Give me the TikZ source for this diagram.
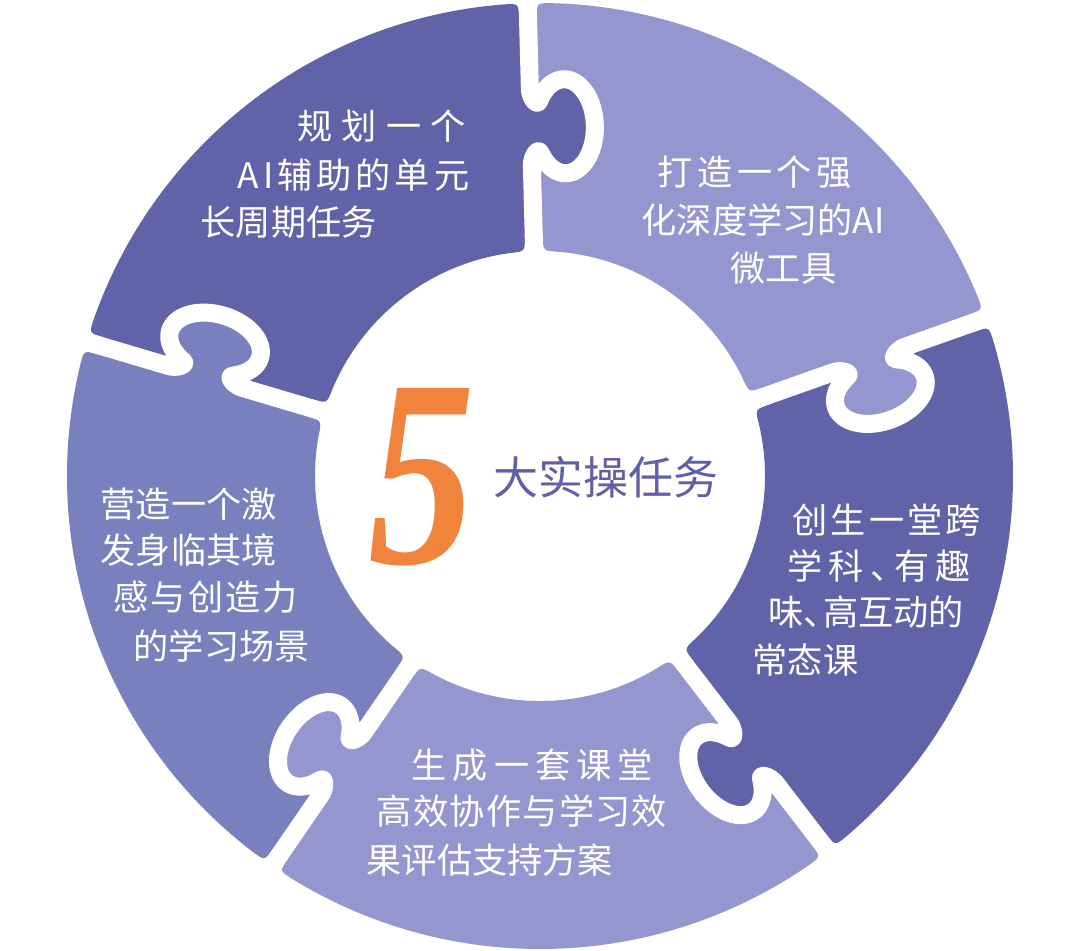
\documentclass[tikz,border=0pt]{standalone}
\usepackage{fontspec}
\newfontfamily\cjk{Noto Sans CJK SC}
\newfontfamily\numfont{Liberation Serif}
\definecolor{dk}{HTML}{6163A9}
\definecolor{lt}{HTML}{9497CF}
\definecolor{md}{HTML}{7880BE}
\definecolor{org}{HTML}{F0843C}
\definecolor{ttl}{HTML}{5F60A8}
\newcommand\knobout[1]{-- ([rotate=#1]311,0) .. controls ([rotate=#1]319,0) and ([rotate=#1]329,-6.5) .. ([rotate=#1]323,-9) .. controls ([rotate=#1]309.9,-14.6) and ([rotate=#1]302,-24) .. ([rotate=#1]302,-34) .. controls ([rotate=#1]302,-50.6) and ([rotate=#1]323,-64) .. ([rotate=#1]349,-64) .. controls ([rotate=#1]375,-64) and ([rotate=#1]396,-50.6) .. ([rotate=#1]396,-34) .. controls ([rotate=#1]396,-24) and ([rotate=#1]388.1,-14.6) .. ([rotate=#1]375,-9) .. controls ([rotate=#1]369,-6.5) and ([rotate=#1]379,0) .. ([rotate=#1]387,0)}
\newcommand\knobin[1]{-- ([rotate=#1]387,0) .. controls ([rotate=#1]379,0) and ([rotate=#1]369,-6.5) .. ([rotate=#1]375,-9) .. controls ([rotate=#1]388.1,-14.6) and ([rotate=#1]396,-24) .. ([rotate=#1]396,-34) .. controls ([rotate=#1]396,-50.6) and ([rotate=#1]375,-64) .. ([rotate=#1]349,-64) .. controls ([rotate=#1]323,-64) and ([rotate=#1]302,-50.6) .. ([rotate=#1]302,-34) .. controls ([rotate=#1]302,-24) and ([rotate=#1]309.9,-14.6) .. ([rotate=#1]323,-9) .. controls ([rotate=#1]329,-6.5) and ([rotate=#1]319,0) .. ([rotate=#1]311,0)}
\newcommand\seg[3]{%
 \fill[#1] ([rotate=#2]311,0) \knobout{#2} -- ([rotate=#2]458,9) .. controls ([rotate=#2]473,9) .. (#2+2.907:473) arc[start angle=#2+2.907, end angle=#3-2.907, radius=473] .. controls ([rotate=#3]473,-9) .. ([rotate=#3]458,-9) \knobin{#3} -- ([rotate=#3]240,-9) .. controls ([rotate=#3]225,-9) .. (#3-6.11:225) arc[start angle=#3-6.11, end angle=#2+6.11, radius=225] .. controls ([rotate=#2]225,9) .. ([rotate=#2]240,9) -- cycle;}
\newcommand\cut[1]{\draw[gapline] (#1:200) \knobout{#1} -- (#1:500);}
\begin{document}
\begin{tikzpicture}[x=0.01cm,y=0.01cm,
  gapline/.style={white,line width=0.18cm,line join=round},
  txt/.style={text=white,inner sep=0pt,anchor=west,font=\cjk\fontsize{10pt}{12pt}\selectfont}]
\useasboundingbox (-540,-474) rectangle (540,476);
\fill[white] (-540,-474) rectangle (540,476);
\seg{dk}{91.5}{163.5}
\seg{lt}{19.5}{91.5}
\seg{dk}{-52.5}{19.5}
\seg{lt}{-124.5}{-52.5}
\seg{md}{163.5}{235.5}
\cut{91.5}
\cut{19.5}
\cut{-52.5}
\cut{-124.5}
\cut{163.5}
% segment 1
\node[txt] (a1) at (-243,350) {规\kern.09cm 划\kern.09cm 一\kern.09cm 个};
\node[txt] (a2) at (-303,301) {A\kern.04cm I\kern.04cm 辅\kern.04cm 助\kern.04cm 的\kern.04cm 单\kern.04cm 元};
\node[txt] (a3) at (-340,254) {长周期任务};
% segment 2
\node[txt] (b1) at (117,304) {打\kern.045cm 造\kern.045cm 一\kern.045cm 个\kern.045cm 强};
\node[txt] (b2) at (101,256) {化深度学习的AI};
\node[txt] (b3) at (190,208) {微工具};
% segment 3
\node[txt] (c1) at (252,-44) {创\kern.03cm 生\kern.03cm 一\kern.03cm 堂\kern.03cm 跨};
\node[txt] (c2) at (247,-90) {学\kern.06cm 科\kern.06cm 、\kern-.3em 有\kern.06cm 趣};
\node[txt] (c3) at (228,-136) {味、\kern-.45em 高互动的};
\node[txt] (c4) at (212,-184) {常态课};
% segment 4
\node[txt] (d1) at (-129,-289) {生\kern.06cm 成\kern.06cm 一\kern.06cm 套\kern.06cm 课\kern.06cm 堂};
\node[txt] (d2) at (-164,-335) {高\kern.013cm 效\kern.013cm 协\kern.013cm 作\kern.013cm 与\kern.013cm 学\kern.013cm 习\kern.013cm 效};
\node[txt] (d3) at (-174,-384) {果评估支持方案};
% segment 5
\node[txt] (e1) at (-440,-28) {营造一个激};
\node[txt] (e2) at (-440,-74) {发身临其境};
\node[txt] (e3) at (-427,-121) {感\kern.02cm 与\kern.02cm 创\kern.02cm 造\kern.02cm 力};
\node[txt] (e4) at (-407,-170) {的学习场景};
% centre
\node[text=org,inner sep=0pt,xscale=0.8,font=\numfont\bfseries\itshape\fontsize{76pt}{76pt}\selectfont] (five) at (-118,-1) {5};
\node[text=ttl,inner sep=0pt,anchor=west,font=\cjk\fontsize{12.8pt}{14pt}\selectfont] (title) at (-47,-1) {大实操任务};
\end{tikzpicture}
\end{document}
